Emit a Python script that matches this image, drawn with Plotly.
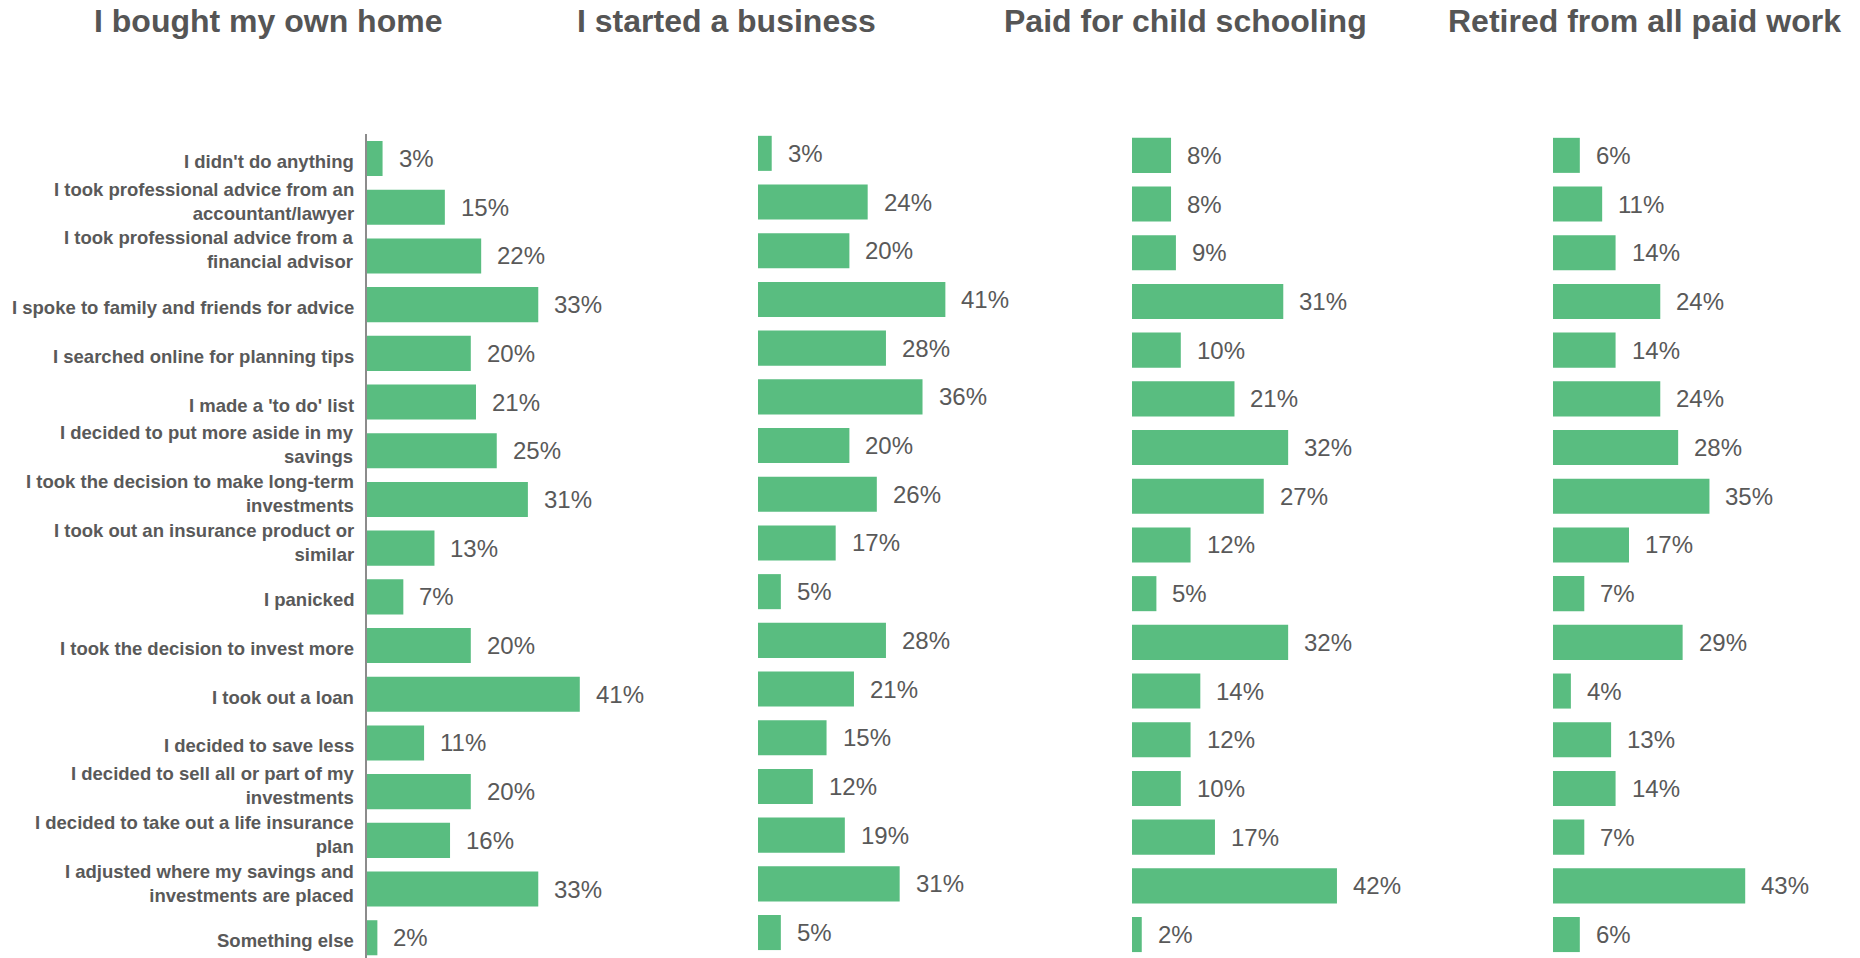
import plotly.graph_objects as go

# Survey responses: actions taken at each life event (% of respondents)
categories = [
    "I didn't do anything",
    "I took professional advice from an<br>accountant/lawyer",
    "I took professional advice from a<br>financial advisor",
    "I spoke to family and friends for advice",
    "I searched online for planning tips",
    "I made a 'to do' list",
    "I decided to put more aside in my<br>savings",
    "I took the decision to make long-term<br>investments",
    "I took out an insurance product or<br>similar",
    "I panicked",
    "I took the decision to invest more",
    "I took out a loan",
    "I decided to save less",
    "I decided to sell all or part of my<br>investments",
    "I decided to take out a life insurance<br>plan",
    "I adjusted where my savings and<br>investments are placed",
    "Something else",
]

panel_titles = [
    "I bought my own home",
    "I started a business",
    "Paid for child schooling",
    "Retired from all paid work",
]

bought_home = [3, 15, 22, 33, 20, 21, 25, 31, 13, 7, 20, 41, 11, 20, 16, 33, 2]
started_business = [3, 24, 20, 41, 28, 36, 20, 26, 17, 5, 28, 21, 15, 12, 19, 31, 5]
child_schooling = [8, 8, 9, 31, 10, 21, 32, 27, 12, 5, 32, 14, 12, 10, 17, 42, 2]
retired = [6, 11, 14, 24, 14, 24, 28, 35, 17, 7, 29, 4, 13, 14, 7, 43, 6]

series = [bought_home, started_business, child_schooling, retired]

W, H = 1860, 958
BAR = "#59BD80"
TEXT = "#595959"
FONT = "Liberation Sans, Arial, sans-serif"

# panel geometry in pixels: left edge of bars, pixels per percent, top of plot area
panels = [
    dict(left=367, ppp=5.19, top=134.2, title_x=268),
    dict(left=758, ppp=4.57, top=129.0, title_x=726),
    dict(left=1132, ppp=4.88, top=131.0, title_x=1185),
    dict(left=1553, ppp=4.47, top=131.0, title_x=1644),
]
ROW = 48.7
PANEL_W = 300

fig = go.Figure()
annotations = []

for i, (vals, p) in enumerate(zip(series, panels)):
    n = i + 1
    xa = "x" if n == 1 else f"x{n}"
    ya = "y" if n == 1 else f"y{n}"
    fig.add_trace(go.Bar(
        x=vals, y=categories, orientation="h",
        marker=dict(color=BAR, line=dict(width=0)),
        xaxis=xa, yaxis=ya, showlegend=False, hoverinfo="x+y",
    ))
    for c, v in zip(categories, vals):
        annotations.append(dict(
            x=v, y=c, xref=xa, yref=ya, text=f"{v}%",
            xanchor="left", yanchor="middle", xshift=14, showarrow=False,
            font=dict(family=FONT, size=24, color=TEXT),
        ))
    annotations.append(dict(
        x=p["title_x"] / W, y=1 - 21 / H, xref="paper", yref="paper",
        text=f"<b>{panel_titles[i]}</b>", showarrow=False,
        xanchor="center", yanchor="middle",
        font=dict(family=FONT, size=32, color="#555555"),
    ))

    xkey = "xaxis" if n == 1 else f"xaxis{n}"
    ykey = "yaxis" if n == 1 else f"yaxis{n}"
    fig.layout[xkey] = dict(
        domain=[p["left"] / W, (p["left"] + PANEL_W) / W],
        range=[0, PANEL_W / p["ppp"]],
        visible=False, anchor=ya, fixedrange=True,
    )
    bottom_val = -0.5 + (H - p["top"]) / ROW
    ydict = dict(
        domain=[0, 1 - p["top"] / H],
        range=[bottom_val, -0.5],
        type="category",
        categoryorder="array", categoryarray=categories,
        anchor=xa, showgrid=False, zeroline=False, fixedrange=True,
        showticklabels=False, ticks="",
    )
    if n == 1:
        ydict.update(showline=True, linecolor="#8C8C8C", linewidth=1.5)
    else:
        ydict.update(showline=False)
    fig.layout[ykey] = ydict

# category labels to the left of the first panel's axis line
for c in categories:
    two_lines = "<br>" in c
    annotations.append(dict(
        x=0, y=c, xref="x", yref="y", text=c,
        xanchor="right", yanchor="middle", align="right",
        xshift=-11, yshift=6 if two_lines else -3, showarrow=False,
        font=dict(family=FONT, size=18.5, color=TEXT, weight="bold"),
    ))

fig.update_layout(
    width=W, height=H,
    margin=dict(l=0, r=0, t=0, b=0),
    paper_bgcolor="white", plot_bgcolor="white",
    bargap=0.28,
    annotations=annotations,
    font=dict(family=FONT, color=TEXT),
)

fig.write_html("out.html")
